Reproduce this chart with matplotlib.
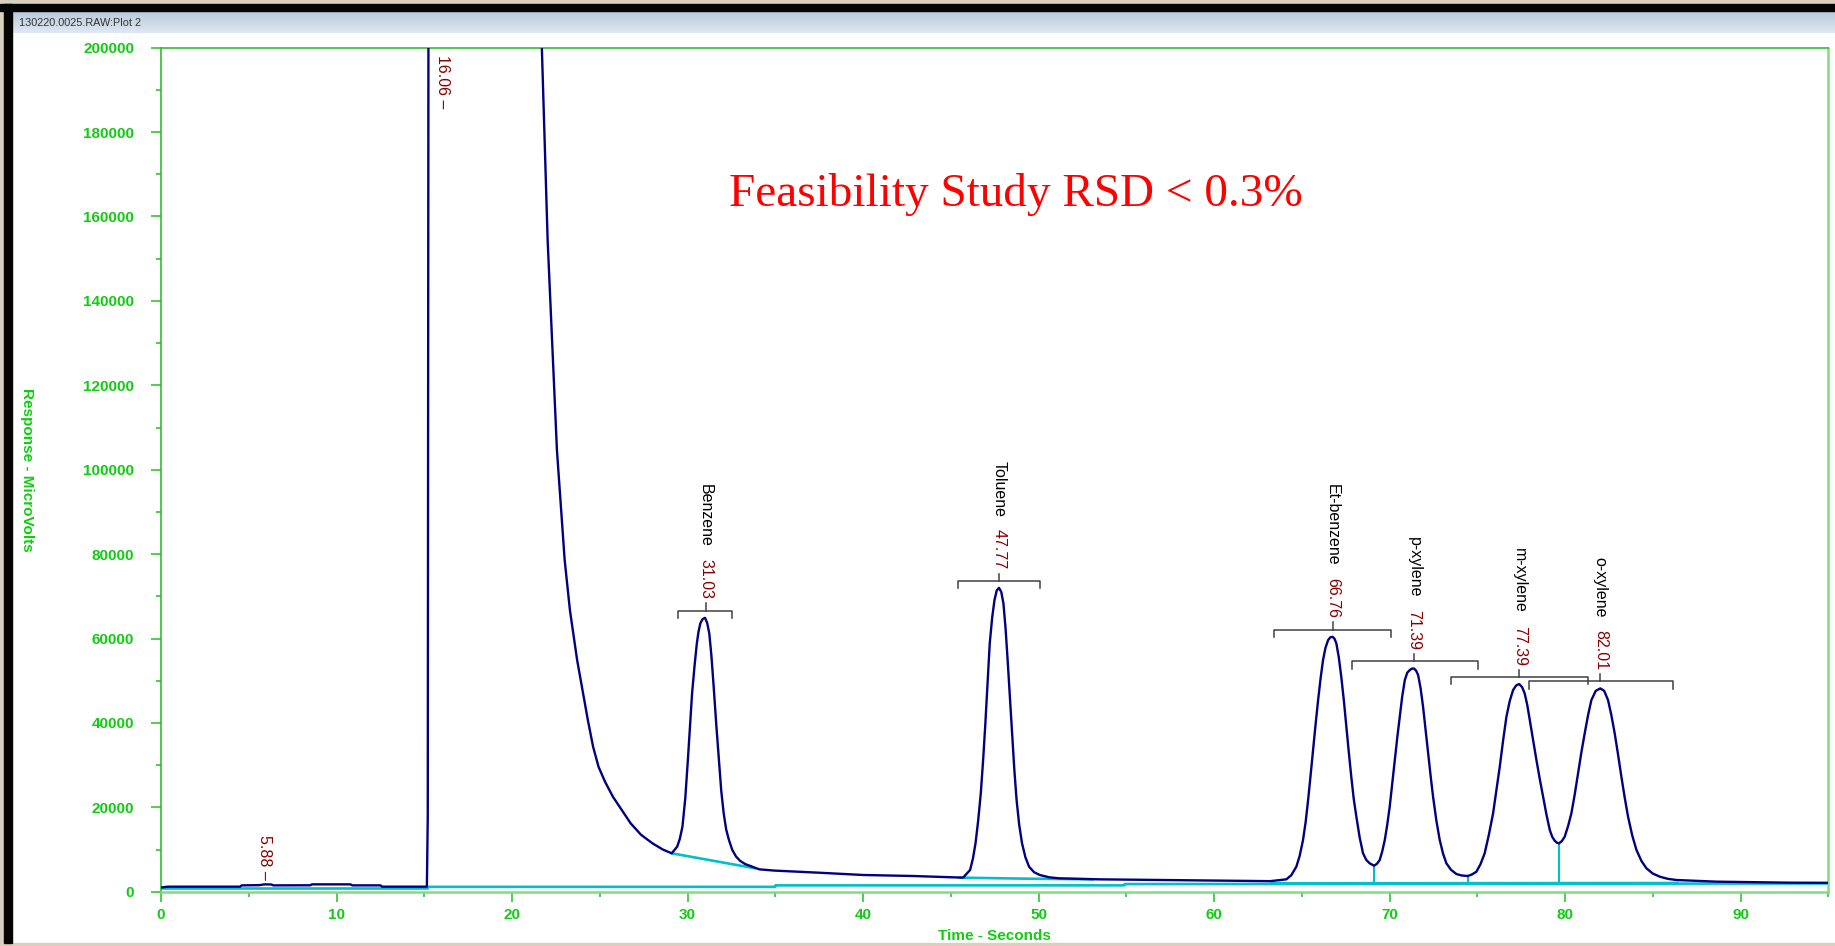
import numpy as np
import matplotlib
matplotlib.use("Agg")
import matplotlib.pyplot as plt
from matplotlib.patches import Rectangle
from matplotlib.ticker import MultipleLocator, FuncFormatter
from matplotlib.colors import LinearSegmentedColormap

# detector trace (seconds, microvolts)
time_s = [
    # before the solvent
    0.0, 0.4, 4.5, 4.6, 5.6, 5.9, 6.3, 6.4, 8.5, 8.6, 10.8, 10.9, 12.5, 12.6, 15.15,
    # solvent (off scale) and its tail
    15.2, 15.25, 16.06, 21.2, 21.7, 22.03, 22.56, 23.0, 23.3, 23.71, 24.32, 24.62, 24.93,
    25.3, 25.75, 26.76, 27.35, 27.99, 28.59, 29.1,
    # benzene
    29.41, 29.56, 29.71, 29.87, 30.02, 30.14, 30.26, 30.40, 30.53, 30.63, 30.73, 30.86,
    31.0, 31.12, 31.24, 31.36, 31.49, 31.64, 31.79, 31.92, 32.06, 32.2, 32.36, 32.55,
    32.77, 33.0, 33.28, 34.09, 34.96, 37.45, 40.0, 42.85, 45.7,
    # toluene
    46.1, 46.26, 46.41, 46.56, 46.71, 46.84, 46.96, 47.09, 47.22, 47.36, 47.49, 47.62,
    47.75, 47.88, 48.0, 48.12, 48.24, 48.37, 48.49, 48.62, 48.75, 48.9, 49.06, 49.25,
    49.46, 49.75, 50.07, 50.61, 51.19, 53.46, 57.26, 61.06, 63.2,
    # ethylbenzene
    64.12, 64.4, 64.69, 64.88, 65.07, 65.22, 65.36, 65.5, 65.64, 65.79, 65.93, 66.07,
    66.21, 66.35, 66.5, 66.63, 66.76, 66.87, 66.97, 67.11, 67.25, 67.4, 67.54, 67.68,
    67.82, 67.96, 68.11, 68.3, 68.49, 68.68, 68.87, 69.12,
    # p-xylene
    69.28, 69.44, 69.58, 69.73, 69.87, 70.01, 70.15, 70.30, 70.44, 70.58, 70.72, 70.87,
    71.01, 71.15, 71.27, 71.39, 71.51, 71.63, 71.77, 71.91, 72.05, 72.2, 72.34, 72.48,
    72.67, 72.86, 73.05, 73.24, 73.5, 73.81, 74.1, 74.46,
    # m-xylene
    74.7, 74.95, 75.18, 75.42, 75.66, 75.90, 76.09, 76.28, 76.47, 76.66, 76.85, 77.04,
    77.22, 77.39, 77.55, 77.70, 77.85, 77.99, 78.18, 78.37, 78.56, 78.75, 78.94, 79.13,
    79.27, 79.41, 79.54, 79.66,
    # o-xylene
    79.82, 79.98, 80.17, 80.36, 80.55, 80.74, 80.93, 81.12, 81.31, 81.50, 81.75, 82.01,
    82.23, 82.45, 82.64, 82.83, 83.02, 83.21, 83.4, 83.59, 83.83, 84.07, 84.35, 84.64,
    85.0, 85.40, 85.85, 86.35, 88.63, 92.8, 95.0,
]
response_uv = [
    1000, 1190, 1190, 1500, 1550, 1740, 1700, 1500, 1520, 1740, 1740, 1500, 1500, 1190, 1190,
    18000, 260000, 900000, 262000, 200000, 154400, 104600, 78600, 66700, 54900, 40700, 34350, 29600,
    26060, 22500, 16200, 13500, 11500, 10000, 9100,
    10670, 12500, 15400, 22000, 31200, 39000, 47000, 53500, 58800, 61700, 63600, 64600,
    64900, 63700, 61200, 56000, 48600, 39500, 31200, 24000, 18600, 14800, 12250, 9900,
    8300, 7300, 6560, 5300, 5000, 4510, 3960, 3720, 3330,
    5140, 7800, 11460, 16800, 23300, 31000, 39090, 49000, 58830, 65000, 69100, 71400,
    72000, 71000, 68300, 62500, 54880, 46000, 37510, 29000, 21720, 15800, 11460, 8200,
    5930, 4600, 3960, 3410, 3170, 2930, 2770, 2620, 2500,
    2930, 3900, 5930, 8500, 12250, 16500, 21720, 27500, 33560, 39800, 45400, 50500,
    54880, 57800, 59620, 60300, 60400, 59900, 58830, 55500, 50930, 45200, 39090, 33000,
    27250, 22000, 17770, 12800, 9090, 7500, 6720, 6170,
    6600, 7510, 9500, 12250, 15900, 20140, 25500, 31190, 36500, 41460, 46200, 50140,
    51900, 52510, 52850, 52900, 52400, 51330, 48200, 43830, 38500, 32770, 27500, 22510,
    16800, 12250, 9000, 6720, 5200, 4190, 3850, 3720,
    4100, 4740, 6500, 9090, 13500, 18560, 24000, 29610, 35800, 41460, 45200, 47780,
    48900, 49200, 48500, 46990, 44200, 40670, 36000, 31190, 26700, 22510, 18300, 14620,
    13000, 12090, 11600, 11460,
    12000, 13040, 15500, 18560, 23000, 28040, 33000, 37510, 41800, 45400, 47600, 48170,
    47600, 45400, 41800, 37510, 32500, 27250, 22300, 17770, 13300, 9880, 7300, 5530,
    4300, 3560, 3050, 2770, 2380, 2140, 2100,
]

# integration baselines (cyan)
base_pre_t = [0.0, 15.15]
base_pre_uv = [950, 950]
base_long_t = [15.15, 35.0, 35.0, 54.9, 54.9, 95.0]
base_long_uv = [1150, 1150, 1500, 1500, 1800, 1950]
base_benzene_t = [29.1, 33.84]
base_benzene_uv = [9100, 5550]
base_toluene_t = [45.5, 49.3, 53.1]
base_toluene_uv = [3330, 3090, 2930]
base_group_t = [63.3, 86.4]
base_group_uv = [2000, 2050]
drop_t = [69.12, 74.46, 79.66]
drop_top_uv = [6170, 3720, 11460]

# identified peaks
peak_rt = [31.03, 47.77, 66.76, 71.39, 77.39, 82.01]
peak_names = ["Benzene", "Toluene", "Et-benzene", "p-xylene", "m-xylene", "o-xylene"]
peak_apex_uv = [64900, 72000, 60400, 52900, 49200, 48170]
window_start = [29.44, 45.4, 63.42, 67.86, 73.53, 77.94]
window_end = [32.52, 50.1, 70.1, 75.03, 81.28, 86.16]

# unnamed peaks (retention time, height the label sits on)
other_rt = [5.88, 16.06]
other_uv = [1740, 200000]

W, H = 1835, 946
plt.rcParams["font.family"] = ["Liberation Sans", "DejaVu Sans"]

fig = plt.figure(figsize=(W / 100, H / 100), dpi=100)
fig.patch.set_facecolor("white")


def px_rect(x0, y0, x1, y1, color):
    # rectangle given in screen pixels (origin top-left)
    fig.patches.append(Rectangle((x0 / W, 1 - y1 / H), (x1 - x0) / W, (y1 - y0) / H,
                                 transform=fig.transFigure, color=color, zorder=0))


# window frame
wood = "#d9d0c1"
px_rect(0, 0, W, 4, wood)
px_rect(0, 0, 4, H, wood)
px_rect(0, 943, W, H, wood)
px_rect(0, 4, W, 11, "#050505")
px_rect(4, 4, 11.5, 943, "#050505")

bar = fig.add_axes([11.5 / W, 1 - 33 / H, (W - 11.5) / W, 22 / H])
grad = np.linspace(0, 1, 40).reshape(-1, 1)
bar.imshow(grad, aspect="auto", cmap=LinearSegmentedColormap.from_list("bar", ["#b7c7d8", "#dfe8f3"]))
bar.axis("off")
fig.text(19 / W, 1 - 22.5 / H, "130220.0025.RAW:Plot 2", fontsize=7.8, color="#333333",
         ha="left", va="center")

# plot area
left, right, top, bottom = 161, 1828.3, 47.7, 891.7
ax = fig.add_axes([left / W, 1 - bottom / H, (right - left) / W, (bottom - top) / H])
ax.set_xlim(0, 95)
ax.set_ylim(0, 200000)

green = "#22c022"
for side in ["left", "top"]:
    ax.spines[side].set_color("#2fbf2f")
    ax.spines[side].set_linewidth(1.2)
for side in ["right", "bottom"]:
    ax.spines[side].set_color("#80dc80")
    ax.spines[side].set_linewidth(1.8)

ax.xaxis.set_major_locator(MultipleLocator(10))
ax.xaxis.set_minor_locator(MultipleLocator(5))
ax.yaxis.set_major_locator(MultipleLocator(20000))
ax.yaxis.set_minor_locator(MultipleLocator(10000))
ax.yaxis.set_major_formatter(FuncFormatter(lambda v, p: f"{int(v)}"))
ax.tick_params(axis="both", which="major", direction="out", length=7.2, width=1.1,
               color=green, labelcolor="#11cc11", labelsize=11)
ax.tick_params(axis="both", which="minor", direction="out", length=3.6, width=1.1, color=green)
ax.tick_params(axis="y", which="major", pad=12)
ax.tick_params(axis="x", which="major", pad=4.5)
for lab in ax.get_xticklabels() + ax.get_yticklabels():
    lab.set_fontweight("bold")

ax.set_xlabel("Time - Seconds", color="#11cc11", fontsize=11, fontweight="bold")
ax.xaxis.set_label_coords(0.5, -0.044)
ax.set_ylabel("Response - MicroVolts", color="#11cc11", fontsize=11, fontweight="bold",
              rotation=270, ha="center", va="center")
ax.yaxis.set_label_coords(-0.0801, 0.5)

# baselines and drop lines
cyan = "#00c0c8"
for bt, bv in [(base_pre_t, base_pre_uv), (base_long_t, base_long_uv),
               (base_benzene_t, base_benzene_uv), (base_toluene_t, base_toluene_uv),
               (base_group_t, base_group_uv)]:
    ax.plot(bt, bv, color=cyan, lw=1.9, zorder=2)
for dt, dv in zip(drop_t, drop_top_uv):
    ax.plot([dt, dt], [2000, dv], color=cyan, lw=1.5, zorder=2)

# detector trace
ax.plot(time_s, response_uv, color="#000080", lw=1.7, zorder=3)

# peak brackets and labels
maroon = "#8b0000"
brk = "#404040"
for rt, name, apex, lo, hi in zip(peak_rt, peak_names, peak_apex_uv, window_start, window_end):
    yb = apex + 1700
    ax.plot([lo, lo, hi, hi], [yb - 1800, yb, yb, yb - 1800], color=brk, lw=1.1, zorder=4)
    ax.plot([rt, rt], [yb, yb + 1700], color=brk, lw=1.1, zorder=4)
    ax.annotate(f"{rt:.2f}", xy=(rt, yb + 1700), xytext=(0, 3), textcoords="offset points",
                rotation=270, ha="center", va="bottom", color=maroon, fontsize=11.5)
    ax.annotate(name, xy=(rt, yb + 1700), xytext=(0, 41), textcoords="offset points",
                rotation=270, ha="center", va="bottom", color="black", fontsize=11.5)

ax.annotate(f"{other_rt[0]:.2f} \u2013", xy=(other_rt[0], other_uv[0]), xytext=(0, 3),
            textcoords="offset points", rotation=270, ha="center", va="bottom",
            color=maroon, fontsize=11.5)
ax.annotate(f"{other_rt[1]:.2f} \u2013", xy=(other_rt[1], other_uv[1]), xytext=(0, -5),
            textcoords="offset points", rotation=270, ha="center", va="top",
            color=maroon, fontsize=11.5)

ax.text(48.72, 162600, "Feasibility Study RSD < 0.3%", color="#ff0000", fontsize=34,
        family="Liberation Serif", ha="center", va="baseline")

fig.savefig("out.png", dpi=100)
